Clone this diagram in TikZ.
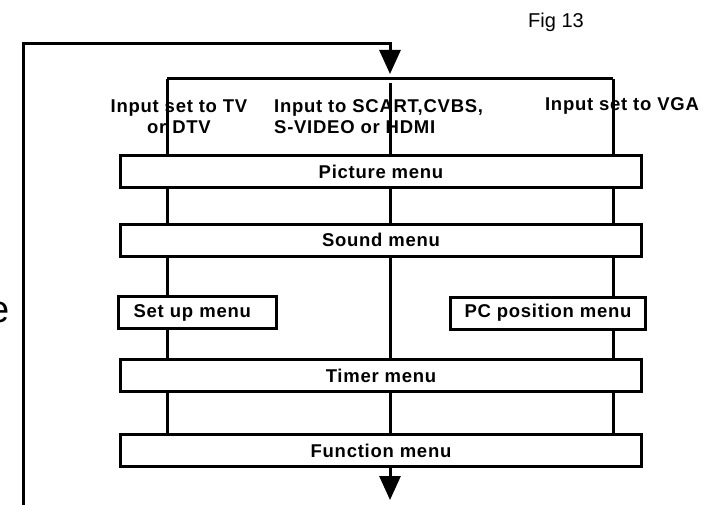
\documentclass[tikz,border=0pt]{standalone}
\usepackage{fontspec}
\setmainfont{Liberation Sans}
\newfontfamily\menufont{Liberation Sans}[LetterSpace=4]
\usetikzlibrary{arrows.meta, positioning, calc}

\begin{document}
\begin{tikzpicture}[
    x=1pt, y=-1pt,
    menu/.style={rectangle, draw=black, line width=3pt, fill=white, minimum height=32pt, inner sep=0pt, font=\menufont\fontsize{18.5}{21}\selectfont\bfseries},
    wide/.style={menu, minimum width=521pt},
    inlabel/.style={inner sep=0pt, font=\menufont\fontsize{18.5}{21}\selectfont\bfseries},
    wire/.style={line width=3pt, black},
    arrow/.style={-{Triangle[length=24pt, width=21pt]}, line width=3pt, black},
]
\useasboundingbox (0,0) rectangle (703,505);

% Labels
\node[font=\fontsize{20}{22}\selectfont] (fig) at (556,22) {Fig 13};
\node[font=\fontsize{38}{40}\selectfont, inner sep=0pt, anchor=base east] (cut) at (9.5,322) {e};
\node[inlabel, align=center] (tv) at (179,117) {Input set to TV\\or DTV};
\node[inlabel, align=left, anchor=west] (scart) at (274,117) {Input to SCART,CVBS,\\S-VIDEO or HDMI};
\node[inlabel] (vga) at (622,106) {Input set to VGA};

% Branch points
\coordinate (brL) at (167,79);
\coordinate (brC) at (390,83);
\coordinate (brR) at (613,79);
\coordinate (loopbot) at (23,505);
\coordinate (looptop) at (390,44);
\coordinate (entry) at (390,74);
\coordinate (exit) at (390,500);

% Menus
\node[wide] (pic) at (381,171.5) {Picture menu};
\node[wide] (snd) at (381,240) {Sound menu};
\node[menu, text width=128pt, inner xsep=15pt, align=left] (setup) at (197.5,312.5) {Set up menu};
\node[menu, minimum width=195pt] (pc) at (548,313) {PC position menu};
\node[wide] (timer) at (381,375.5) {Timer menu};
\node[wide] (func) at (381,450.5) {Function menu};

% Loop back
\draw[arrow] (loopbot) |- (looptop) -- (entry);
\draw[wire] (brL) -- (brR);

% Branches
\foreach \b in {brL,brC,brR}
    \draw[wire] (\b) -- (\b |- pic.north);
\foreach \b in {brL,brC,brR}
    \draw[wire] (pic.south -| \b) -- (snd.north -| \b);
\draw[wire] (snd.south -| brL) -- (setup.north -| brL);
\draw[wire] (snd.south -| brC) -- (timer.north -| brC);
\draw[wire] (snd.south -| brR) -- (pc.north -| brR);
\draw[wire] (setup.south -| brL) -- (timer.north -| brL);
\draw[wire] (pc.south -| brR) -- (timer.north -| brR);
\foreach \b in {brL,brC,brR}
    \draw[wire] (timer.south -| \b) -- (func.north -| \b);
\draw[arrow] (func.south -| brC) -- (exit);

\end{tikzpicture}
\end{document}
